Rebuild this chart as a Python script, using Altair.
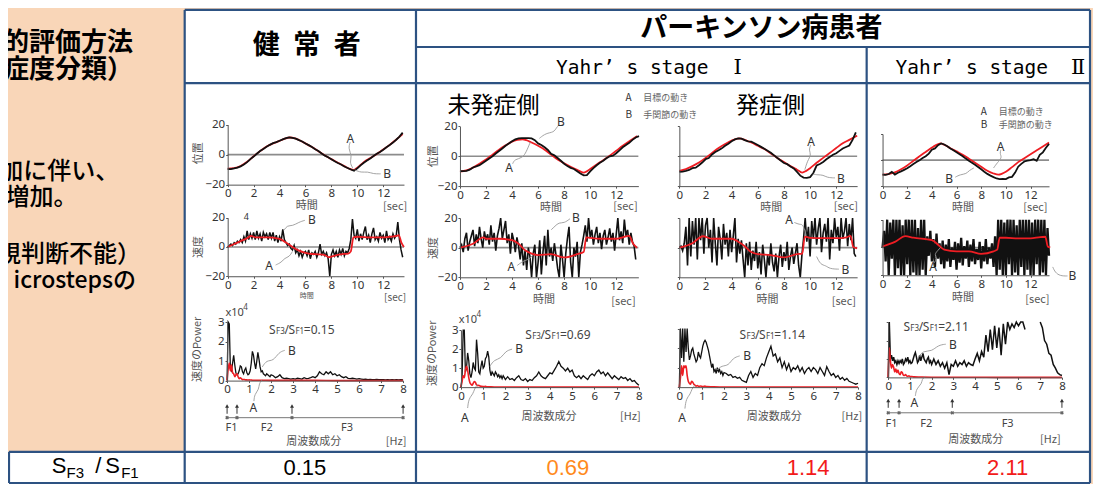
import altair as alt
import numpy as np
import pandas as pd

# ------------------------------------------------------------------ data
TIME_TICKS = [0, 2, 4, 6, 8, 10, 12]
FREQ_TICKS = [0, 1, 2, 3, 4, 5, 6, 7, 8]
POS_TICKS = [-20, 0, 20]
POW_TICKS = [0, 1, 2, 3]

# --- position: target A (red) as (t, value); wrist B (black) every 0.25 s
C1_POS_A_T = [0, 0.5, 1, 1.5, 2, 2.5, 3, 3.5, 4, 4.4, 4.8, 5.2, 5.5, 6, 6.5, 7, 7.5, 8, 8.5, 9, 9.5, 9.75, 10, 10.5, 11, 11.5, 12, 12.5, 13, 13.5]
C1_POS_A = [-9.3, -9.0, -7.6, -4.8, -1.1, 2.3, 5.4, 7.5, 9.1, 10.6, 11.4, 10.8, 9.7, 7.5, 5.0, 2.3, -0.6, -3.0, -5.4, -7.7, -9.7, -10.2, -8.7, -5.0, -2.3, 0.4, 3.4, 6.5, 10.0, 13.6]
C1_POS_B = [-9.6, -9.6, -9.2, -8.6, -7.8, -6.6, -5.0, -3.0, -1.3, 0.6, 2.4, 3.8, 5.2, 6.5, 7.6, 8.3, 9.2, 10.1, 10.9, 11.5,
            11.2, 10.6, 9.6, 8.7, 7.4, 6.3, 5.1, 3.6, 2.4, 0.8, -0.7, -1.8, -3.1, -4.4, -5.6, -6.6, -7.9, -8.9, -9.9, -10.8,
            -9.2, -7.2, -5.4, -3.9, -2.6, -1.0, 0.5, 1.8, 3.3, 4.9, 6.4, 8.0, 9.9, 12.0, 14.6]

C2_POS_A_T = [0, 0.5, 1, 1.5, 2, 2.5, 3, 3.5, 4, 4.4, 4.8, 5.1, 5.5, 6, 6.5, 7, 7.5, 8, 8.5, 9, 9.5, 9.7, 10, 10.5, 11, 11.5, 12, 12.5, 13, 13.6]
C2_POS_A = [-10.3, -9.5, -7.6, -5.0, -2.2, 1.1, 4.4, 7.3, 9.8, 10.9, 11.4, 10.8, 9.2, 7.0, 4.4, 1.1, -2.2, -4.7, -7.0, -9.1, -10.9, -10.3, -8.5, -5.5, -2.6, 0.4, 3.7, 7.0, 10.0, 13.5]
C2_POS_B = [-10.0, -10.0, -9.8, -9.0, -7.5, -6.8, -6.0, -4.5, -3.0, -1.5, 0.0, 1.8, 3.5, 5.2, 7.0, 8.5, 10.0, 11.3, 12.0, 12.2,
            12.2, 12.1, 12.0, 10.8, 8.6, 7.6, 6.0, 4.2, 1.6, 0.6, -1.2, -3.0, -5.0, -6.6, -7.8, -8.5, -10.0, -11.6, -12.8, -12.7,
            -10.2, -8.0, -6.0, -4.4, -3.0, -1.4, 0.0, 0.4, 2.0, 4.0, 6.0, 7.6, 9.0, 11.0, 12.6, 13.5]

C3_POS_A_T = [0, 0.5, 1, 1.5, 2, 2.5, 3, 3.5, 4, 4.6, 5, 5.5, 6, 6.5, 7, 7.5, 8, 8.5, 9, 9.4, 9.7, 10, 10.5, 11, 11.5, 12, 12.5, 13, 13.6]
C3_POS_A = [-9.8, -8.6, -6.6, -4.2, -1.1, 2.2, 5.5, 8.2, 10.5, 12.0, 11.0, 9.2, 7.0, 4.8, 1.8, -1.1, -3.9, -6.6, -9.0, -10.9, -9.8, -8.0, -4.4, -1.1, 2.2, 5.5, 8.7, 11.0, 13.8]
C3_POS_B = [-10.5, -10.3, -9.8, -9.2, -8.0, -7.6, -6.0, -4.2, -2.0, -1.2, 1.2, 2.8, 4.0, 5.3, 7.0, 8.4, 10.0, 11.3, 12.0, 11.8,
            10.8, 10.0, 9.8, 8.7, 7.6, 6.3, 5.0, 3.7, 2.4, 0.6, -1.2, -2.8, -4.5, -5.3, -6.8, -8.2, -10.5, -13.0, -14.3, -14.5,
            -14.0, -11.2, -6.2, -5.2, -3.8, -2.0, -0.5, 1.0, 2.0, 3.6, 5.2, 6.2, 7.2, 11.0, 16.0]

C4_POS_A_T = [0, 0.5, 1, 1.5, 2, 2.5, 3, 3.5, 4, 4.3, 4.7, 5, 5.5, 6, 6.5, 7, 7.5, 8, 8.5, 9, 9.4, 9.7, 10, 10.5, 11, 11.5, 12, 12.5, 13, 13.5]
C4_POS_A = [-11.1, -10.6, -9.4, -7.0, -4.0, -0.5, 3.0, 6.3, 9.6, 11.3, 12.8, 11.8, 9.1, 6.7, 4.2, 1.1, -2.0, -5.1, -8.1, -10.2, -11.1, -10.3, -8.9, -5.3, -1.5, 1.5, 4.5, 7.5, 10.5, 13.5]
C4_POS_B = [-11.0, -11.2, -10.6, -9.0, -11.0, -9.6, -8.6, -7.4, -6.2, -4.6, -3.0, -1.4, 0.0, 1.6, 3.0, 5.0, 8.0, 9.0, 11.5, 12.8,
            12.0, 10.6, 9.0, 7.6, 6.0, 4.5, 3.0, 1.2, -0.5, -2.0, -3.5, -5.2, -7.0, -8.8, -10.5, -11.8, -13.0, -14.0, -14.5, -14.4,
            -14.5, -13.2, -12.8, -9.5, -5.0, -2.8, -1.0, -0.4, 0.0, 0.8, -0.5, 4.0, 6.0, 9.5, 12.5]

# --- velocity: target A (red) as (t, value); wrist B (black) every 0.125 s
C1_VEL_A_T = [0, 0.5, 1, 1.5, 1.8, 2.2, 3, 4, 4.5, 5, 5.5, 6, 6.5, 7, 7.5, 7.8, 8.2, 8.7, 9.3, 9.5, 9.7, 10, 11, 12, 12.5, 13, 13.2, 13.4, 13.6]
C1_VEL_A = [0, 2, 4, 6, 7.5, 6.5, 6.5, 5.5, 3, 0, -2.5, -4, -4.8, -5, -5.5, -7, -6, -5, -4.5, -3, 6.5, 7, 6.5, 6.5, 7, 7.5, 8, 3, 0]
C1_VEL_B = [0, 1, 2, 1, 3, 2, 4, 3, 5, 3, 7, 4, 11, 5, 9, 6, 10, 5, 11, 6, 9, 4, 10, 7, 9, 5, 10, 6, 10, 4,
            8, 3, 7, 4, 12, 5, 3, 1, 2, -1, -2, 1, -4, -2, -6, -3, -7, -4, -3, -6, -2, -8, -4, -5, -3, -7, -4, 2, -5, -3,
            -6, -4, -8, -20, -5, -2, -6, -3, -7, -2, -5, -1, -6, -3, -4, -1, 5, 19, 8, 6, 12, 4, 9, 5, 10, 14, 5, 8, 3, 9,
            13, 5, 7, 4, 10, 6, 8, 3, 11, 5, 7, 4, 9, 6, 8, 17, 5, -2, -7]

C2_VEL_A_T = [0, 1, 1.8, 2, 3, 4, 4.5, 5, 5.5, 6, 7, 8, 9, 9.5, 9.7, 10, 11, 12, 12.5, 13, 13.3, 13.6]
C2_VEL_A = [0, 2.6, 7, 6, 6, 5, 2.6, -1.8, -4, -5, -4.4, -6.6, -4.4, -3, 7, 6.6, 6, 6, 7, 8, 2.6, 0]
C2_VEL_B = [0, 2, -3, 6, 10, -2, 4, 8, 12, 1, 9, 3, 14, 6, 0, 11, 5, 9, 2, 15, 4, 10, -2, 8, 13, 20, 6, 12, 18, 3,
            9, -4, 10, 5, -3, 7, 1, -8, 3, -12, -2, -15, 0, -6, -20, -4, 2, -20, -10, 5, -18, -3, 8, -12, 12, -6, 0, -9, 3, -5,
            -14, -20, 2, -8, -20, -4, 6, 14, -10, -20, 0, -6, 4, -20, -3, 2, 8, 15, 4, 20, 7, 12, 2, 9, 14, 3, 10, -1, 8, 12,
            2, 7, 13, 4, 10, -2, 9, 20, 5, 11, 3, 19, 8, 12, 2, 10, 4, 1, -8]

C3_VEL_A_T = [0, 1, 1.8, 2.5, 4, 4.5, 5, 5.5, 6, 7, 8, 9, 9.4, 9.6, 10, 11, 12, 12.8, 13.1, 13.3, 13.6]
C3_VEL_A = [0, 3, 7.7, 6, 6, 4, 1, -3, -4.4, -5, -6.6, -4.4, -4, 7.5, 6.6, 6.4, 6.4, 7, 8, 0.5, -0.4]
C3_VEL_B = [0, 1, -2, 3, 14, -12, 20, -6, 18, 2, 20, -8, 20, 5, 20, -4, 15, 20, 0, 12, -10, 20, 3, -12, 14, 6, -8, 16, 2, 10,
            -6, 12, -3, 8, 20, -10, 6, -4, 5, -8, -20, 3, -12, 4, -15, -2, -9, 4, -14, -3, -18, 2, -8, -20, -5, -12, 3, -10, -16, -4,
            -20, -6, 2, -13, -3, -9, 4, -15, -6, 0, -11, -4, 3, -12, -20, -5, 6, 20, 4, 14, -6, 18, 6, 20, 2, 13, 20, -3, 10, 16,
            4, 20, -8, 12, 3, 20, 7, 14, -2, 20, 6, 11, 20, 1, 16, 5, 20, -4, -6]

C4_VEL_A_T = [0, 1, 1.85, 2.5, 4, 4.5, 5, 6, 7, 8, 9, 9.3, 9.5, 10, 11, 12, 12.8, 13.2, 13.4, 13.6]
C4_VEL_A = [0.7, 4, 8.1, 7, 5.3, 2, -1.6, -2.8, -2.8, -4.6, -2.8, -1.6, 7, 7, 6.5, 6.5, 7.5, 7.7, 0.7, 0]
C4_VEL_B = [0, 12, -10, 20, -20, 18, -8, 20, -20, 20, -15, 20, -20, 16, -20, 20, -12, 20, -20, 20, -18, 20, -20, 14, -20, 20, -16, 20, -20, 8,
            -6, 12, -10, 6, -14, 10, -8, 3, -12, 5, -15, 2, -10, 6, -14, 0, -9, 4, -16, 3, -11, 7, -13, 1, -8, 5, -14, 2, -10, 6,
            -12, -1, -9, 4, -15, 1, -10, 6, -12, 0, -8, 3, -14, 8, -20, 20, -16, 20, -20, 18, -20, 20, -12, 20, -20, 20, -18, 16, -20, 20,
            -14, 20, -20, 20, -16, 20, -20, 18, -20, 20, -12, 20, -20, 20, -18, 20, -20, 14, -6]

# --- power spectrum of velocity (x10^4): B (black) 0-2 Hz every 0.05, 2.1-8 Hz every 0.1
C1_POW_B_LOW = [0, 3.0, 2.9, 0.6, 0.5, 0.9, 1.3, 0.8, 0.4, 0.3, 0.35, 0.5, 0.75, 0.7, 0.45, 0.35, 0.55, 0.65, 0.4, 0.3,
                0.35, 0.5, 0.9, 1.5, 1.3, 0.9, 0.6, 1.0, 1.45, 1.1, 0.7, 0.45, 0.5, 0.35, 0.3, 0.25, 0.35, 0.3, 0.25, 0.2, 0.3]
C1_POW_B_HIGH = [0.25, 0.15, 0.2, 0.3, 0.15, 0.1, 0.12, 0.1, 0.08, 0.1, 0.08, 0.12, 0.1, 0.08, 0.15, 0.1, 0.12, 0.15, 0.2, 0.15,
                 0.25, 0.45, 0.35, 0.3, 0.45, 0.35, 0.45, 0.3, 0.35, 0.25, 0.3, 0.2, 0.15, 0.2, 0.12, 0.1, 0.12, 0.1, 0.08, 0.1,
                 0.08, 0.06, 0.08, 0.05, 0.06, 0.05, 0.05, 0.06, 0.05, 0.05, 0.05, 0.04, 0.05, 0.04, 0.05, 0.04, 0.05, 0.04, 0.05, 0.04]
C2_POW_B_LOW = [0, 0.5, 3.0, 3.0, 0.8, 1.0, 1.8, 1.4, 0.7, 0.5, 0.8, 1.3, 1.0, 0.9, 2.5, 1.8, 0.8, 0.7, 1.1, 1.4,
                1.0, 1.1, 1.5, 1.6, 1.9, 1.6, 0.9, 0.6, 0.8, 0.7, 0.6, 0.8, 0.7, 0.55, 0.65, 0.5, 0.6, 0.45, 0.6, 0.5, 0.4]
C2_POW_B_HIGH = [0.55, 0.4, 0.45, 0.35, 0.5, 0.6, 0.4, 0.35, 0.45, 0.3, 0.4, 0.35, 0.5, 0.6, 0.8, 0.6, 0.5, 0.45, 0.6, 0.75,
                 0.7, 0.9, 1.1, 1.35, 1.1, 1.0, 0.85, 1.0, 0.8, 0.9, 0.6, 0.5, 0.6, 0.45, 0.6, 0.5, 0.4, 0.6, 0.7, 0.6,
                 0.8, 0.9, 0.7, 0.8, 0.6, 0.75, 0.6, 0.45, 0.6, 0.5, 0.4, 0.55, 0.45, 0.5, 0.35, 0.45, 0.3, 0.35, 0.2, 0.1]
C3_POW_B_LOW = [0, 3.0, 1.5, 3.0, 1.3, 3.0, 1.8, 3.0, 2.0, 1.4, 1.6, 1.9, 2.0, 1.7, 1.5, 1.3, 1.4, 1.8, 1.6, 1.5,
                1.8, 2.1, 2.3, 2.4, 2.3, 2.1, 1.9, 1.6, 1.3, 1.0, 1.2, 0.8, 0.9, 0.7, 1.0, 0.8, 0.9, 0.7, 0.8, 0.6, 0.75]
C3_POW_B_HIGH = [0.7, 0.6, 0.65, 0.5, 0.55, 0.45, 0.5, 0.35, 0.3, 0.25, 0.6, 0.8, 0.5, 0.7, 0.6, 1.0, 1.2, 1.1, 1.5, 1.8,
                 2.1, 1.6, 1.7, 1.3, 1.5, 1.0, 1.3, 0.9, 1.2, 0.8, 1.0, 0.9, 1.1, 0.8, 1.0, 0.7, 0.9, 1.0, 0.8, 1.0,
                 0.9, 0.7, 1.0, 0.8, 0.6, 1.05, 0.8, 0.6, 0.7, 0.5, 0.6, 0.4, 0.5, 0.35, 0.45, 0.3, 0.25, 0.2, 0.15, 0.2]
C4_POW_B_LOW = [0, 3.0, 1.0, 1.2, 0.9, 1.1, 0.8, 0.9, 0.7, 0.9, 0.75, 0.9, 0.8, 1.0, 0.7, 0.8, 1.0, 0.9, 1.1, 0.8,
                0.9, 0.75, 0.8, 1.0, 1.2, 1.35, 1.1, 0.8, 0.9, 1.2, 0.9, 1.1, 1.3, 1.0, 0.9, 0.8, 1.0, 1.1, 0.8, 0.9, 0.7]
C4_POW_B_HIGH = [1.0, 0.7, 0.9, 0.6, 0.8, 0.5, 0.8, 0.15, 0.7, 0.6, 0.9, 0.6, 0.8, 0.7, 0.9, 0.6, 0.8, 0.7, 0.65, 1.0,
                 1.3, 0.9, 1.4, 1.1, 2.3, 1.4, 2.6, 1.5, 2.8, 1.6, 2.7, 1.2, 2.9, 1.8, 3.0, 2.6, 2.9, 2.7, 3.0, 2.8,
                 3.0, 3.0, 2.6, None, None, None, None, None, None, 3.0, 2.7, 2.0, 1.8, 1.3, 1.2, 0.7, 0.5, 0.25, 0.15, 0.1]

# A (red): 0-1.2 Hz every 0.05, then 1.5, 2, 3, ... 8 Hz
C1_POW_A = [0, 0.6, 0.9, 0.5, 0.8, 0.4, 0.35, 0.2, 0.3, 0.35, 0.2, 0.1, 0.15, 0.1, 0.05, 0.06, 0.05, 0.04, 0.04, 0.03, 0.04, 0.03, 0.03, 0.02, 0.02,
            0.02, 0.01, 0.01, 0.01, 0, 0, 0, 0]
C2_POW_A = [0, 0.3, 0.6, 0.5, 0.9, 1.1, 0.9, 0.5, 0.25, 0.15, 0.1, 0.2, 0.3, 0.25, 0.12, 0.08, 0.1, 0.06, 0.05, 0.04, 0.03, 0.03, 0.04, 0.02, 0.02,
            0.01, 0.01, 0, 0, 0, 0, 0, 0]
C3_POW_A = [0, 0.5, 1.1, 0.6, 1.1, 1.0, 1.1, 0.6, 0.3, 0.2, 0.15, 0.3, 0.25, 0.15, 0.1, 0.05, 0.08, 0.05, 0.04, 0.06, 0.04, 0.03, 0.04, 0.05, 0.03,
            0.02, 0.01, 0.01, 0, 0, 0, 0, 0]
C4_POW_A = [0, 1.6, 0.9, 0.5, 0.7, 0.55, 0.3, 0.45, 0.25, 0.4, 0.2, 0.15, 0.3, 0.25, 0.12, 0.1, 0.15, 0.08, 0.06, 0.08, 0.05, 0.04, 0.05, 0.03, 0.03,
            0.02, 0.01, 0.01, 0.01, 0, 0, 0, 0]

SF_RATIO = ["0.15", "0.69", "1.14", "2.11"]

# ------------------------------------------------------------------ layout / style
PEACH = "#F9D6B8"
BORDER = "#2D5282"
RED = "#EE1D23"
BLACK = "#111111"
GRAY = "#8C8C8C"
LEAD = "#9A9A9A"
ORANGE = "#FF8A1C"
RED2 = "#F21B1B"
CJK = "Noto Sans CJK JP"
SANS = "Noto Sans"
ARIAL = "Liberation Sans"
MONO = "DejaVu Sans Mono"
SERIF = "DejaVu Serif"

X0, Y0 = 8, 8
W, H = 1085, 476
SX = W / (1101 - X0)
SY = H / (496 - Y0)


def px(v):
    return (v - X0) * SX


def py(v):
    return (v - Y0) * SY


FXS = alt.Scale(domain=[X0, 1101], range=[0, W], nice=False, zero=False)
FYS = alt.Scale(domain=[Y0, 496], range=[0, H], nice=False, zero=False)

PANELS = {
    "c1pos": dict(xdom=[0, 13.6], xr=[229.3, 406.9], ydom=[-20, 20], yr=[189.1, 127.5], xt=TIME_TICKS, yt=POS_TICKS, ylab=True),
    "c1vel": dict(xdom=[0, 13.6], xr=[229.3, 406.9], ydom=[-20, 20], yr=[283.0, 223.0], xt=TIME_TICKS, yt=POS_TICKS, ylab=True),
    "c1pow": dict(xdom=[0, 8], xr=[228.7, 406.0], ydom=[0, 3], yr=[390.0, 330.0], xt=FREQ_TICKS, yt=POW_TICKS, ylab=True),
    "c2pos": dict(xdom=[0, 13.7], xr=[463.3, 643.0], ydom=[-20, 20], yr=[190.6, 129.4], xt=TIME_TICKS, yt=POS_TICKS, ylab=True),
    "c2vel": dict(xdom=[0, 13.7], xr=[463.3, 643.0], ydom=[-20, 20], yr=[284.1, 223.3], xt=TIME_TICKS, yt=POS_TICKS, ylab=True),
    "c2pow": dict(xdom=[0, 8], xr=[464.3, 643.5], ydom=[0, 3], yr=[396.7, 338.3], xt=FREQ_TICKS, yt=POW_TICKS, ylab=True),
    "c3pos": dict(xdom=[0, 13.6], xr=[684.3, 863.4], ydom=[-20, 20], yr=[190.6, 129.4], xt=TIME_TICKS, yt=POS_TICKS, ylab=False),
    "c3vel": dict(xdom=[0, 13.6], xr=[684.3, 863.4], ydom=[-20, 20], yr=[284.1, 223.3], xt=TIME_TICKS, yt=POS_TICKS, ylab=False),
    "c3pow": dict(xdom=[0, 8], xr=[684.3, 864.3], ydom=[0, 3], yr=[396.7, 336.7], xt=FREQ_TICKS, yt=POW_TICKS, ylab=False),
    "c4pos": dict(xdom=[0, 13.5], xr=[889.0, 1056.7], ydom=[-20, 20], yr=[190.8, 137.2], xt=TIME_TICKS, yt=POS_TICKS, ylab=False),
    "c4vel": dict(xdom=[0, 13.5], xr=[889.0, 1056.7], ydom=[-20, 20], yr=[282.0, 225.0], xt=TIME_TICKS, yt=POS_TICKS, ylab=False),
    "c4pow": dict(xdom=[0, 8], xr=[894.7, 1069.7], ydom=[0, 3], yr=[386.7, 330.0], xt=FREQ_TICKS, yt=POW_TICKS, ylab=False),
}

# annotation labels (chart units) and their leader squiggles
ANNOT = {
    "c1pos": ([("A", 9.47, 10.6, 12), ("B", 12.3, -12.8, 12)],
              [[(9.45, 8.3), (9.3, 4), (9.6, -1), (9.4, -5), (9.65, -9)],
               [(9.8, -10.2), (10.3, -12), (10.8, -11.3), (11.2, -12.8), (11.8, -12.8)]]),
    "c1vel": ([("B", 6.49, 18.7, 12), ("A", 3.2, -13.3, 12), ("4", 1.43, 20.5, 9)],
              [[(5.95, 18.2), (5.5, 17), (5.0, 14.3), (4.6, 14.8), (4.35, 11.5)],
               [(3.7, -12.3), (4.15, -10.5), (4.4, -7.5), (4.75, -6.8), (5.0, -3)]]),
    "c1pow": ([("B", 2.95, 1.5, 12), ("A", 1.19, -1.4, 12)],
              [[(2.62, 1.55), (2.35, 1.45), (2.1, 1.0), (1.8, 1.05), (1.6, 0.7)],
               [(1.22, -1.05), (1.25, -0.7), (1.45, -0.45), (1.45, -0.15), (1.6, 0.05)]]),
    "c2pos": ([("B", 7.75, 22.9, 12), ("A", 3.78, -7.8, 12)],
              [[(7.6, 21), (7.4, 19), (7.2, 16), (6.6, 15.5), (6.1, 12)],
               [(4.05, -5), (4.2, -2), (4.8, -1.2), (5.1, 3), (5.4, 9.5)]]),
    "c2vel": ([("B", 8.9, 20.2, 12), ("A", 3.94, -13.2, 12)],
              [[(8.45, 19.5), (8.0, 16.5), (7.6, 17), (7.3, 14.5), (7.0, 12)],
               [(4.4, -12), (4.7, -10), (5.0, -8.5), (5.3, -8), (5.6, -5)]]),
    "c2pow": ([("B", 2.62, 2.0, 12), ("A", 0.17, -1.6, 12)],
              [[(2.3, 2.0), (2.0, 1.9), (1.8, 1.5), (1.5, 1.45), (1.3, 1.1)],
               [(0.3, -1.1), (0.35, -0.6), (0.55, -0.35), (0.6, -0.1), (0.75, 0.15)]]),
    "c3pos": ([("A", 10.08, 9.8, 12), ("B", 12.35, -15, 12)],
              [[(10.05, 7.5), (9.9, 4), (10.1, 1), (9.8, -3), (9.6, -9)],
               [(11.9, -14.5), (11.3, -14.3), (11.0, -12.5), (10.6, -12.5), (10.2, -12)]]),
    "c3vel": ([("A", 8.4, 18.9, 12), ("B", 12.7, -15.3, 12)],
              [[(8.8, 17), (9.2, 15.5), (9.4, 16), (9.6, 12), (9.7, 8)],
               [(12.2, -14.5), (11.5, -14.3), (11.2, -12), (10.8, -11.5), (10.5, -6)]]),
    "c3pow": ([("B", 3.04, 1.6, 12), ("A", 0.12, -1.57, 12)],
              [[(2.7, 1.6), (2.4, 1.5), (2.2, 1.1), (1.9, 1.1), (1.7, 0.9)],
               [(0.25, -1.1), (0.3, -0.6), (0.5, -0.35), (0.55, -0.1), (0.7, 0.1)]]),
    "c4pos": ([("A", 9.58, 10.4, 12), ("B", 5.4, -14.2, 12)],
              [[(9.6, 8), (9.5, 5), (9.7, 2), (9.3, -2), (9.0, -6)],
               [(5.9, -13), (6.3, -11), (6.8, -10.5), (7.0, -8), (7.4, -6)]]),
    "c4vel": ([("A", 4.1, -13.7, 12), ("B", 15.4, -20.7, 12)],
              [[(4.2, -11), (4.4, -8), (4.2, -5), (4.5, -2), (4.7, 0)],
               [(15.0, -20.5), (14.4, -20.5), (14.0, -18), (13.8, -14)]]),
    "c4pow": ([("B", 2.98, 1.78, 12), ("A", 1.2, -1.4, 12)],
              [[(2.65, 1.8), (2.3, 1.75), (2.0, 1.4), (1.6, 1.45), (1.4, 1.1)],
               [(1.25, -1.0), (1.3, -0.6), (1.55, -0.35), (1.55, -0.1), (1.7, 0.05)]]),
}

# frequency-band arrows (F1 / F2 / F3) below the spectra of columns 1 and 4
BANDS = {
    "c1pow": dict(f=[0, 0.45, 2.95, 8.0], tip=-1.3, bot=-1.7, line=-1.9, lab=-2.45,
                  labels=[("F1", 0.2), ("F2", 1.8), ("F3", 5.45)]),
    "c4pow": dict(f=[0, 0.5, 2.95, 8.0], tip=-1.25, bot=-1.65, line=-1.92, lab=-2.55,
                  labels=[("F1", 0.15), ("F2", 1.75), ("F3", 5.5)]),
}


# ------------------------------------------------------------------ helpers
def pairs_df(t, v):
    return pd.DataFrame({"x": t, "y": v})


def uniform_df(v, dt):
    return pd.DataFrame({"x": np.arange(len(v)) * dt, "y": v})


def power_df(low, high):
    x = np.concatenate([np.arange(len(low)) * 0.05, 2.1 + np.arange(len(high)) * 0.1])
    y = pd.Series(list(low) + list(high), dtype="float")
    df = pd.DataFrame({"x": x, "y": y})
    df["seg"] = df["y"].isna().cumsum()
    return df.dropna()


RED_FREQ = list(np.round(np.arange(25) * 0.05, 2)) + [1.5, 2, 3, 4, 5, 6, 7, 8]


def panel(key, black, red, zero=True, red_on_top=True, bw=1.3, rw=1.8):
    P = PANELS[key]
    xs = alt.Scale(domain=P["xdom"], range=[px(P["xr"][0]), px(P["xr"][1])], nice=False, zero=False)
    ys = alt.Scale(domain=P["ydom"], range=[py(P["yr"][0]), py(P["yr"][1])], nice=False, zero=False)
    common = dict(title=None, grid=False, labelFlush=False, labelOverlap=False, labelFont=SANS,
                  labelFontSize=11.5, labelColor="#333", labelPadding=1, tickSize=2,
                  tickColor="#555", domainColor="#555", domainWidth=1, zindex=1)
    ax = alt.Axis(orient="bottom", offset=py(P["yr"][0]) - H, values=P["xt"], **common)
    ay = alt.Axis(orient="left", offset=-px(P["xr"][0]), values=P["yt"], labels=P["ylab"], **common)
    X = alt.X("x:Q", scale=xs, axis=ax)
    Y = alt.Y("y:Q", scale=ys, axis=ay)

    layers = []
    if zero:
        layers.append(alt.Chart(pd.DataFrame({"x": P["xdom"], "y": [0, 0]}))
                      .mark_line(color=GRAY, strokeWidth=1.6).encode(x=X, y=Y))
    enc_black = dict(x=X, y=Y)
    if "seg" in black.columns:
        enc_black["detail"] = "seg:N"
    l_black = alt.Chart(black).mark_line(color=BLACK, strokeWidth=bw).encode(**enc_black)
    l_red = alt.Chart(red).mark_line(color=RED, strokeWidth=rw, interpolate="monotone").encode(x=X, y=Y)
    layers += [l_black, l_red] if red_on_top else [l_red, l_black]

    labels, leaders = ANNOT[key]
    rows = []
    for g, path in enumerate(leaders):
        for i, (lx, ly) in enumerate(path):
            rows.append(dict(x=lx, y=ly, g=g, i=i))
    layers.append(alt.Chart(pd.DataFrame(rows))
                  .mark_line(color=LEAD, strokeWidth=0.9, interpolate="basis")
                  .encode(x=X, y=Y, detail="g:N", order="i:Q"))
    lab = pd.DataFrame([dict(t=t, x=lx, y=ly, s=s) for t, lx, ly, s in labels])
    layers.append(alt.Chart(lab).mark_text(font=SANS, color="#333", baseline="middle")
                  .encode(x=X, y=Y, text="t:N", size=alt.Size("s:Q", scale=None)))

    if key in BANDS:
        B = BANDS[key]
        stems = pd.DataFrame({"x": B["f"], "y": [B["tip"]] * 4, "y2": [B["bot"]] * 4})
        layers.append(alt.Chart(stems).mark_rule(color="#333", strokeWidth=1)
                      .encode(x=X, y=Y, y2="y2:Q"))
        layers.append(alt.Chart(stems).mark_point(shape="triangle-up", filled=True, size=16,
                                                  color="#333", opacity=1).encode(x=X, y=Y))
        layers.append(alt.Chart(pd.DataFrame({"x": [0, 8], "y": [B["line"]] * 2}))
                      .mark_line(color="#777", strokeWidth=1).encode(x=X, y=Y))
        layers.append(alt.Chart(pd.DataFrame({"x": B["f"], "y": [B["line"]] * 4}))
                      .mark_point(shape="cross", filled=True, size=14, angle=45, color="#666",
                                  opacity=1).encode(x=X, y=Y))
        bl = pd.DataFrame([dict(t=t, x=fx, y=B["lab"]) for t, fx in B["labels"]])
        layers.append(alt.Chart(bl).mark_text(font=SANS, fontSize=11, color="#444", baseline="middle")
                      .encode(x=X, y=Y, text="t:N"))
    return alt.layer(*layers)


# ------------------------------------------------------------------ frame (table, headings)
FX = alt.X("x:Q", scale=FXS, axis=None)
FY = alt.Y("y:Q", scale=FYS, axis=None)

rects = pd.DataFrame([
    dict(x=186, x2=1098, y=10, y2=496, c="#FFFFFF"),
    dict(x=8, x2=1098, y=463, y2=496, c="#FFFFFF"),
])
background = alt.Chart(rects).mark_rect().encode(
    x=FX, x2="x2:Q", y=FY, y2="y2:Q", color=alt.Color("c:N", scale=None))

segs = pd.DataFrame([
    dict(x=186, x2=1098, y=10, y2=10), dict(x=419, x2=1098, y=48, y2=48),
    dict(x=186, x2=1098, y=85, y2=85), dict(x=9, x2=1098, y=463, y2=463),
    dict(x=9, x2=1098, y=495, y2=495),
    dict(x=186, x2=186, y=10, y2=495), dict(x=419, x2=419, y=10, y2=495),
    dict(x=873, x2=873, y=48, y2=495), dict(x=1098, x2=1098, y=10, y2=495),
    dict(x=9, x2=9, y=463, y2=495),
])
borders = alt.Chart(segs).mark_rule(color=BORDER, strokeWidth=2.2).encode(
    x=FX, x2="x2:Q", y=FY, y2="y2:Q")

TXT = []


def add(group, text, x, y, size, color="#000", angle=0):
    TXT.append(dict(g=group, t=text, x=x, y=y, s=size, c=color, a=angle))


add("hb", "健\u2002常\u2002者", 309, 47, 27)
add("hb", "パーキンソン病患者", 767, 30, 27)
add("lb", "的評価方法", 134, 44, 26)
add("lb", "症度分類）", 134, 72, 26)
add("lr", "加に伴い、", 120, 176, 24)
add("lr", "増加。", 78, 203, 24)
add("lr", "視判断不能）", 142, 261, 24)
add("lr", "icrostepsの", 137, 288, 23)
add("ml", "Yahr’ s stage", 560, 69, 19.5)
add("ml", "Yahr’ s stage", 902, 69, 19.5)
add("rs", "Ⅰ", 743, 69, 21)
add("rs", "Ⅱ", 1086, 69, 21)
add("rc", "未発症側", 497, 108, 23)
add("rc", "発症側", 776, 108, 23)
for lx, ly in [(630, 100), (988, 115)]:
    add("sl", "A", lx, ly, 10, "#333")
    add("sl", "目標の動き", lx + 18, ly, 9, "#666")
for lx, ly in [(630, 118), (988, 128)]:
    add("sl", "B", lx, ly, 10, "#333")
    add("sl", "手関節の動き", lx + 18, ly, 9, "#666")

AX = "#555"
for (tx, ty) in [(200, 157), (437, 160)]:
    add("ax", "位置", tx, ty, 11, AX, 270)
for (tx, ty) in [(200, 253), (437, 254)]:
    add("ax", "速度", tx, ty, 11, AX, 270)
for (tx, ty) in [(199, 358), (436, 362)]:
    add("ax", "速度のPower", tx, ty, 11, AX, 270)
for (tx, ty, sx, sy) in [(309, 211, 398, 212), (555, 213, 630, 212), (777, 213, 852, 212), (970, 213, 1043, 213),
                         (548, 307, 628, 309), (773, 307, 850, 309), (970, 305, 1045, 307)]:
    add("ax", "時間", tx, ty, 11, AX)
    add("ax", "[sec]", sx, sy, 11, AX)
add("ax", "時間", 309, 303, 7, AX)
add("ax", "[sec]", 398, 305, 10, AX)
for (tx, ty, hx) in [(316, 453, 399), (553, 427, 635), (780, 427, 858), (983, 451, 1058)]:
    add("ax", "周波数成分", tx, ty, 11, AX)
    add("ax", "[Hz]", hx, ty, 11, AX)

for (tx, ty) in [(227, 321), (462, 328)]:
    add("nl", "x10", tx, ty, 11, "#444")
    add("nl", "4", tx + 18, ty - 5, 8, "#444")

for (sx0, sy0), val in zip([(271, 338), (529, 343), (745, 343), (910, 335)], SF_RATIO):
    add("nl", "S", sx0, sy0, 12, "#444")
    add("nl", "F3", sx0 + 7, sy0 + 2, 8, "#444")
    add("nl", "/", sx0 + 15.5, sy0, 12, "#444")
    add("nl", "S", sx0 + 19.5, sy0, 12, "#444")
    add("nl", "F1", sx0 + 26.5, sy0 + 2, 8, "#444")
    add("nl", "=" + val, sx0 + 35, sy0, 12, "#444")

for (cx, col), val in zip([(307, "#000"), (572, ORANGE), (814, RED2), (1015, RED2)], SF_RATIO):
    add("bc", val, cx, 480, 22, col)
add("bl", "S", 52, 478, 22)
add("bl", "F3", 67, 485, 15)
add("bl", "/", 96, 478, 22)
add("bl", "S", 106, 478, 22)
add("bl", "F1", 122, 485, 15)

GROUPS = {
    "hb": dict(font=CJK, fontWeight="bold", align="center"),
    "lb": dict(font=CJK, fontWeight="bold", align="right"),
    "lr": dict(font=CJK, fontWeight=500, align="right"),
    "rc": dict(font=CJK, fontWeight="normal", align="center"),
    "ml": dict(font=MONO, fontWeight="normal", align="left"),
    "rs": dict(font=SERIF, fontWeight="normal", align="center"),
    "sl": dict(font=CJK, fontWeight="normal", align="left"),
    "ax": dict(font=CJK, fontWeight="normal", align="center"),
    "nl": dict(font=SANS, fontWeight="normal", align="left"),
    "bc": dict(font=ARIAL, fontWeight="normal", align="center"),
    "bl": dict(font=ARIAL, fontWeight="normal", align="left"),
}
txt_df = pd.DataFrame(TXT)
text_layers = []
for g, props in GROUPS.items():
    sub = txt_df[txt_df["g"] == g]
    text_layers.append(
        alt.Chart(sub).mark_text(baseline="middle", **props).encode(
            x=FX, y=FY, text="t:N",
            size=alt.Size("s:Q", scale=None),
            color=alt.Color("c:N", scale=None),
            angle=alt.Angle("a:Q", scale=None),
        )
    )

# ------------------------------------------------------------------ panels
panels = [
    panel("c1pos", uniform_df(C1_POS_B, 0.25), pairs_df(C1_POS_A_T, C1_POS_A), red_on_top=False, bw=1.8),
    panel("c1vel", uniform_df(C1_VEL_B, 0.125), pairs_df(C1_VEL_A_T, C1_VEL_A), bw=1.5),
    panel("c1pow", power_df(C1_POW_B_LOW, C1_POW_B_HIGH), pairs_df(RED_FREQ, C1_POW_A), zero=False, rw=1.6),
    panel("c2pos", uniform_df(C2_POS_B, 0.25), pairs_df(C2_POS_A_T, C2_POS_A), red_on_top=False, bw=1.8),
    panel("c2vel", uniform_df(C2_VEL_B, 0.125), pairs_df(C2_VEL_A_T, C2_VEL_A), bw=1.6),
    panel("c2pow", power_df(C2_POW_B_LOW, C2_POW_B_HIGH), pairs_df(RED_FREQ, C2_POW_A), zero=False, rw=1.6),
    panel("c3pos", uniform_df(C3_POS_B, 0.25), pairs_df(C3_POS_A_T, C3_POS_A), red_on_top=False, bw=1.8),
    panel("c3vel", uniform_df(C3_VEL_B, 0.125), pairs_df(C3_VEL_A_T, C3_VEL_A), bw=1.6),
    panel("c3pow", power_df(C3_POW_B_LOW, C3_POW_B_HIGH), pairs_df(RED_FREQ, C3_POW_A), zero=False, rw=1.6),
    panel("c4pos", uniform_df(C4_POS_B, 0.25), pairs_df(C4_POS_A_T, C4_POS_A), red_on_top=False, bw=1.8),
    panel("c4vel", uniform_df(C4_VEL_B, 0.125), pairs_df(C4_VEL_A_T, C4_VEL_A), bw=2.3),
    panel("c4pow", power_df(C4_POW_B_LOW, C4_POW_B_HIGH), pairs_df(RED_FREQ, C4_POW_A), zero=False, rw=1.6, bw=1.5),
]

chart = (
    alt.layer(background, *panels, borders, *text_layers)
    .resolve_scale(x="independent", y="independent")
    .properties(width=W, height=H, padding=0, background=PEACH,
                autosize=alt.AutoSizeParams(type="none"))
    .configure_view(strokeWidth=0)
)

chart.save("out.html", embed_options={"renderer": "svg", "actions": False})
